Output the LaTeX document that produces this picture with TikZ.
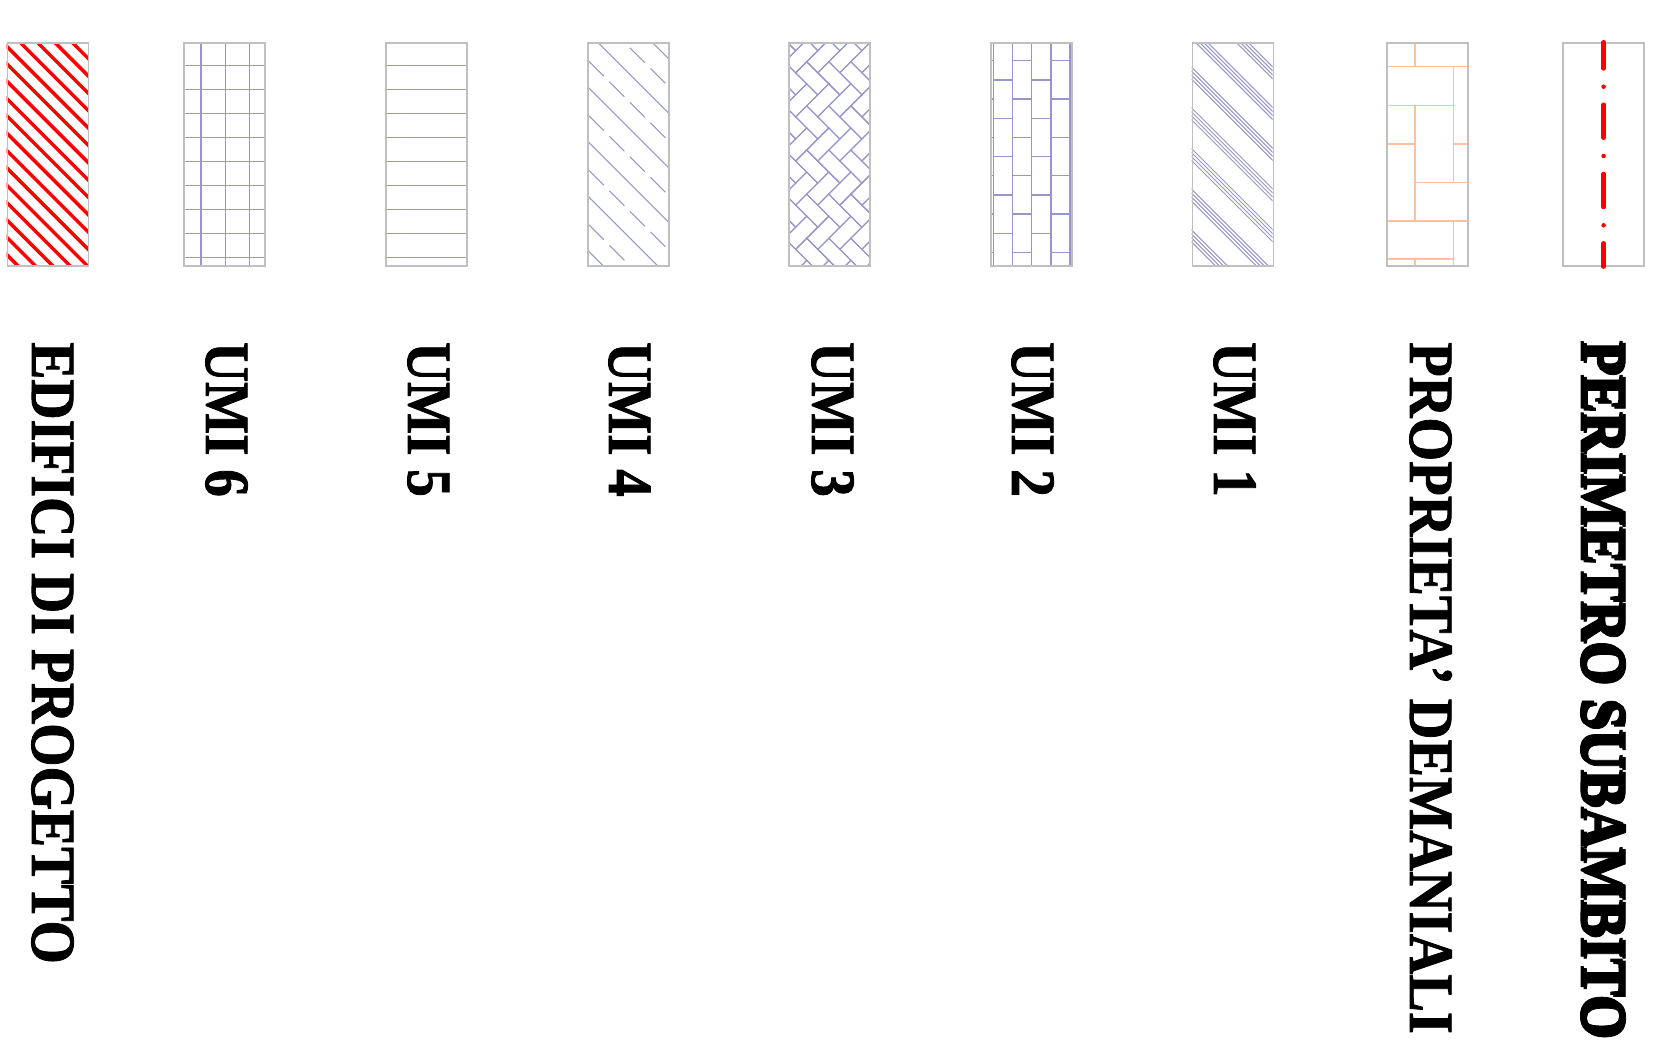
\documentclass[tikz,border=0pt]{standalone}
\usepackage{fontspec}
\setmainfont{Liberation Serif}[Ligatures=TeX]
\newfontfamily\lblfont{Liberation Serif}[Ligatures=TeX,UprightFont={* Bold},FakeBold=1.4]
\definecolor{boxgray}{RGB}{192,192,192}
\definecolor{patblue}{RGB}{150,150,205}
\definecolor{patorange}{RGB}{255,192,160}
\newcommand{\lbltext}[2][0.875]{\scalebox{#1}[1]{#2}}
\begin{document}
\begin{tikzpicture}[x=1pt,y=-1pt,
  frame/.style={draw=boxgray,line width=1.6pt,minimum width=81pt,minimum height=222.7pt,anchor=north west,inner sep=0pt},
  pat/.style={draw=patblue,line width=1.1pt},
  opat/.style={draw=patorange,line width=1.5pt},
  redhatch/.style={draw=red,line width=3.4pt},
  lbl/.style={rotate=-90,anchor=base west,inner sep=0pt,font=\lblfont\fontsize{63}{70}\selectfont}]
\useasboundingbox (0,0) rectangle (1675,1046);

% ---- box 1: red hatch
\begin{scope}
\clip (6.7,42.3) rectangle (88.3,265);
\foreach \k in {-15,...,5} \draw[redhatch] ({-22.3+17.35*\k},0) -- ++(300,300);
\end{scope}
\node[frame] (b1) at (6.7,42.3) {};

% ---- box 2: grid
\begin{scope}
\clip (183.3,42.3) rectangle (264.3,265);
\foreach \x in {201,225.3,249.3} \draw[pat] (\x,42.3) -- (\x,265);
\foreach \i in {0,...,8} \draw[pat] (183.3,{65.3+24.05*\i}) -- (264.3,{65.3+24.05*\i});
\end{scope}
\node[frame] (b2) at (183.3,42.3) {};

% ---- box 3: horizontal lines
\begin{scope}
\clip (385,42.3) rectangle (466,265);
\foreach \i in {0,...,8} \draw[pat] (385,{65.3+24.05*\i}) -- (466,{65.3+24.05*\i});
\end{scope}
\node[frame] (b3) at (385,42.3) {};

% ---- box 4: solid and dashed diagonals
\begin{scope}
\clip (587.3,42.3) rectangle (668.3,265);
\foreach \k in {-2,...,5} \draw[pat] ({555.4-54.5*\k},0) -- ++(300,300);
\foreach \k in {-2,...,5} \draw[pat,dash pattern=on 21pt off 8pt] ({589},{589-527.7+54.5*\k}) -- ++(300,300);
\end{scope}
\node[frame] (b4) at (587.3,42.3) {};

% ---- box 5: herringbone
\begin{scope}
\clip (788.3,42.3) rectangle (869.3,265);
\begin{scope}[shift={(828.8,150)},rotate=45,scale=15.6]
\foreach \a in {-10,...,10} \foreach \b in {-6,...,6} {
  \draw[pat] ({\a-2*\b},{\a+2*\b}) rectangle +(2,1);
  \draw[pat] ({\a-2*\b},{\a+2*\b+1}) rectangle +(1,2);
}
\end{scope}
\end{scope}
\node[frame] (b5) at (788.3,42.3) {};

% ---- box 6: vertical bricks
\begin{scope}
\clip (990,42.3) rectangle (1071,265);
\foreach \x in {993.3,1012.7,1031.7,1051,1070} \draw[pat] (\x,42.3) -- (\x,265);
\foreach \m in {-1,...,6} {
  \draw[pat] (993.3,{80+38.33*\m}) -- (1012.7,{80+38.33*\m});
  \draw[pat] (1031.7,{80+38.33*\m}) -- (1051,{80+38.33*\m});
  \draw[pat] (990,{60.7+38.33*\m}) -- (993.3,{60.7+38.33*\m});
  \draw[pat] (1012.7,{60.7+38.33*\m}) -- (1031.7,{60.7+38.33*\m});
  \draw[pat] (1051,{60.7+38.33*\m}) -- (1071,{60.7+38.33*\m});
}
\end{scope}
\node[frame] (b6) at (990,42.3) {};

% ---- box 7: groups of diagonals
\begin{scope}
\clip (1191.7,42.3) rectangle (1272.7,265);
\foreach \g in {-6,...,3} \foreach \j in {0,...,3}
  \draw[pat,line width=1pt] ({1124.4+40.7*\g-4*\j},0) -- ++(300,300);
\end{scope}
\node[frame] (b7) at (1191.7,42.3) {};

% ---- box 8: orange blocks
\draw[opat] (1415,42.3) -- (1415,66.7);
\draw[opat] (1386,66.7) -- (1466.7,66.7);
\draw[opat] (1453.3,66.7) -- (1453.3,182.3);
\draw[opat] (1386,105.7) -- (1453.3,105.7);
\draw[opat] (1415,105.7) -- (1415,221);
\draw[opat] (1386,144) -- (1415,144);
\draw[opat] (1453.3,144) -- (1466.7,144);
\draw[opat] (1415,182.3) -- (1466.7,182.3);
\draw[opat] (1386,221) -- (1466.7,221);
\draw[opat] (1453.3,221) -- (1453.3,265);
\draw[opat] (1386,259) -- (1453.3,259);
\draw[opat] (1415,259) -- (1415,265);
\node[frame] (b8) at (1386,42.3) {};

% ---- box 9: red dash-dot
\node[frame] (b9) at (1562.3,42.3) {};
\draw[red,line width=4.5pt,line cap=round,dash pattern=on 33pt off 18.3pt on 0pt off 18pt,dash phase=6.9pt]
  (b9.north) -- (b9.south);

% ---- labels
\node[lbl] (t1) at (32,342) {\lbltext[0.885]{EDIFICI DI PROGETTO}};
\node[lbl] (t2) at (206,342) {\lbltext{UMI 6}};
\node[lbl] (t3) at (408,342) {\lbltext{UMI 5}};
\node[lbl] (t4) at (609,342) {\lbltext{UMI 4}};
\node[lbl] (t5) at (812,342) {\lbltext{UMI 3}};
\node[lbl] (t6) at (1012,342) {\lbltext{UMI 2}};
\node[lbl] (t7) at (1214,342) {\lbltext{UMI 1}};
\node[lbl] (t8) at (1410,342) {\lbltext[0.895]{PROPRIETA' DEMANIALI}};
\node[lbl] (t9) at (1581,340) {\lbltext[0.885]{PERIMETRO SUBAMBITO}};
\node[lbl] (t9b) at (1584,342) {\lbltext[0.885]{PERIMETRO SUBAMBITO}};
\end{tikzpicture}
\end{document}
